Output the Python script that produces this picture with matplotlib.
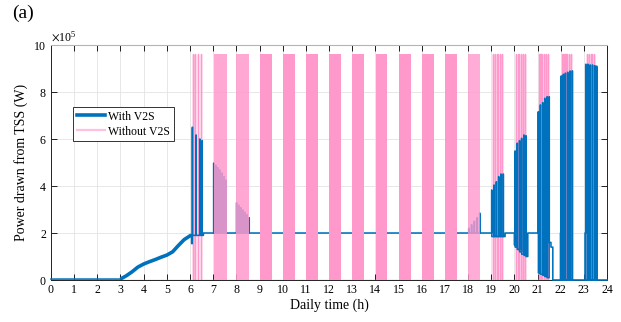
import matplotlib
matplotlib.use("Agg")
import matplotlib.pyplot as plt
from matplotlib.ticker import ScalarFormatter
from matplotlib.lines import Line2D

# ---- data (power in units of 1e5 W, time in hours) ----
SCALE = 1e5
PINK_LEVEL = 9.6  # full draw without V2S

# with V2S: morning charging ramp
ramp_h = [0.0, 3.0, 3.25, 3.5, 3.75, 4.0, 4.25, 4.5, 4.75, 5.0, 5.25, 5.5, 5.75, 6.0, 6.06]
ramp_p = [0.04, 0.04, 0.18, 0.35, 0.55, 0.68, 0.78, 0.87, 0.97, 1.06, 1.2, 1.47, 1.72, 1.88, 1.92]

# with V2S: pulse bursts (start times, peak values, trough values)
burst6_t = [6.10, 6.26, 6.42, 6.52]
burst6_p = [6.50, 6.17, 6.00, 5.93]
burst6_lo = [1.9, 1.9, 1.9, 1.9]

burst7_t = [7.02, 7.11, 7.20, 7.29, 7.38, 7.47, 7.55]
burst7_p = [4.97, 4.88, 4.78, 4.68, 4.55, 4.40, 4.25]
burst7_lo = [2.0, 2.0, 2.0, 2.0, 2.0, 2.0, 2.0]

burst8_t = [8.01, 8.10, 8.19, 8.28, 8.37, 8.46, 8.55]
burst8_p = [3.29, 3.18, 3.08, 2.98, 2.88, 2.78, 2.65]
burst8_lo = [2.0, 2.0, 2.0, 2.0, 2.0, 2.0, 2.0]

burst18_t = [18.03, 18.15, 18.27, 18.39, 18.50]
burst18_p = [2.20, 2.35, 2.50, 2.65, 2.85]
burst18_lo = [2.0, 2.0, 2.0, 2.0, 2.0]

burst19_t = [19.02, 19.12, 19.22, 19.32, 19.42, 19.52]
burst19_p = [3.83, 4.04, 4.18, 4.40, 4.51, 4.51]
burst19_lo = [1.85, 1.85, 1.85, 1.85, 1.85, 1.85]

burst20_t = [20.03, 20.12, 20.22, 20.31, 20.41, 20.50]
burst20_p = [5.49, 5.82, 5.93, 6.03, 6.17, 6.14]
burst20_lo = [1.40, 1.30, 1.20, 1.10, 1.05, 1.00]

burst21_t = [21.03, 21.12, 21.22, 21.31, 21.41, 21.50]
burst21_p = [7.16, 7.45, 7.55, 7.73, 7.80, 7.80]
burst21_lo = [0.30, 0.25, 0.20, 0.15, 0.10, 1.60]

burst22_t = [22.02, 22.11, 22.20, 22.30, 22.40, 22.50]
burst22_p = [8.68, 8.75, 8.80, 8.84, 8.89, 8.90]
burst22_lo = [0.0, 0.0, 0.0, 0.0, 0.0, 0.0]

burst23_t = [23.08, 23.17, 23.27, 23.37, 23.47, 23.55]
burst23_p = [9.18, 9.18, 9.15, 9.15, 9.12, 9.10]
burst23_lo = [0.0, 0.0, 0.0, 0.0, 0.0, 0.0]

# without V2S: isolated full-power pulses and dense switching bands
pink_pulses = [6.13, 6.21, 6.33, 6.47,
               19.07, 19.17, 19.27, 19.37, 19.47,
               20.08, 20.17, 20.27, 20.36, 20.45,
               21.08, 21.17, 21.27, 21.36, 21.46,
               22.07, 22.16, 22.25, 22.35, 22.45,
               23.12, 23.22, 23.32, 23.42]
band_start = [7.03, 8.00, 9.00, 10.01, 11.02, 12.01, 13.01, 14.01, 15.02, 16.01, 17.02, 18.01]
band_end = [7.58, 8.56, 9.52, 10.53, 11.52, 12.52, 13.52, 14.51, 15.54, 16.53, 17.54, 18.52]
band_alpha = [0.85, 0.85, 1, 1, 1, 1, 1, 1, 1, 1, 1, 0.8]

x_ticks = list(range(0, 25))
y_ticks = [0, 2, 4, 6, 8, 10]

# ---- build step waveforms ----
bt, bv = list(ramp_h), list(ramp_p)


def step_to(t, v):
    bt.extend([t, t])
    bv.extend([bv[-1], v])


def burst(times, peaks, lows, hold=0.008):
    for t, p, lo in zip(times, peaks, lows):
        step_to(t, p)
        step_to(t + hold, lo)


step_to(6.07, 1.55)
burst(burst6_t, burst6_p, burst6_lo)
step_to(6.58, 2.0)
burst(burst7_t, burst7_p, burst7_lo)
burst(burst8_t, burst8_p, burst8_lo)
burst(burst18_t, burst18_p, burst18_lo)
burst(burst19_t, burst19_p, burst19_lo)
step_to(19.6, 2.0)
step_to(20.0, 1.5)
burst(burst20_t, burst20_p, burst20_lo)
step_to(20.58, 2.0)
burst(burst21_t, burst21_p, burst21_lo)
step_to(21.58, 1.4)
step_to(21.66, 0.0)
step_to(21.99, 2.0)
burst(burst22_t, burst22_p, burst22_lo)
step_to(23.05, 2.0)
burst(burst23_t, burst23_p, burst23_lo)
step_to(24.0, 0.0)

pt, pv = [0.0], [0.0]
for t in pink_pulses:
    pt.extend([t, t, t + 0.012, t + 0.012])
    pv.extend([0.0, PINK_LEVEL, PINK_LEVEL, 0.0])
pt.append(24.0)
pv.append(0.0)

# ---- figure ----
plt.rcParams["font.family"] = ["Liberation Serif", "DejaVu Serif"]
plt.rcParams["mathtext.fontset"] = "stix"

BLUE = "#0072BD"
PINK = "#FF99CC"

fig = plt.figure(figsize=(6.21, 3.22), dpi=100)
ax = fig.add_axes([0.0821, 0.1304, 0.8954, 0.7298])

ax.plot(pt, [v * SCALE for v in pv], color=PINK, lw=1.0, zorder=2)
ax.plot(bt, [v * SCALE for v in bv], color=BLUE, lw=1.15, zorder=3, clip_on=False)
# charging ramp drawn heavier, as in the daily profile
ax.plot(ramp_h[1:], [v * SCALE for v in ramp_p[1:]], color=BLUE, lw=2.6, zorder=3,
        solid_capstyle="butt")
for s, e, a in zip(band_start, band_end, band_alpha):
    ax.fill_between([s, e], 0, PINK_LEVEL * SCALE, color=PINK, alpha=a, lw=0, zorder=5)

ax.set_xlim(0, 24)
ax.set_ylim(0, 10 * SCALE)
ax.set_xticks(x_ticks)
ax.set_yticks([v * SCALE for v in y_ticks])

fmt = ScalarFormatter(useMathText=True)
fmt.set_powerlimits((5, 5))
ax.yaxis.set_major_formatter(fmt)
ax.yaxis.get_offset_text().set_fontsize(8.6)

ax.tick_params(direction="in", length=4, width=0.6, labelsize=8.6,
               top=True, right=True, pad=3)
ax.grid(True, color="#e3e3e3", lw=0.6, zorder=0)
ax.set_axisbelow(True)
for side in ["left", "bottom", "right"]:
    ax.spines[side].set_color("#222222")
    ax.spines[side].set_linewidth(0.7)
ax.spines["top"].set_color("#b5b5b5")
ax.spines["top"].set_linewidth(0.8)

ax.set_xlabel("Daily time (h)", fontsize=10, labelpad=2)
ax.set_ylabel("Power drawn from TSS (W)", fontsize=10, labelpad=4)

handles = [Line2D([], [], color=BLUE, lw=2.6),
           Line2D([], [], color="#FFBFDF", lw=1.6)]
leg = ax.legend(handles, ["With V2S", "Without V2S"], loc="upper left",
                bbox_to_anchor=(0.0396, 0.736), borderaxespad=0,
                fontsize=8.5, fancybox=False, framealpha=1,
                edgecolor="#333333", handlelength=2.4, handletextpad=0.3,
                borderpad=0.3, labelspacing=0.25)
leg.get_frame().set_linewidth(0.7)
leg.set_zorder(10)

fig.text(0.02, 0.985, "(a)", fontsize=14, ha="left", va="top")

fig.savefig("out.png", dpi=100)
